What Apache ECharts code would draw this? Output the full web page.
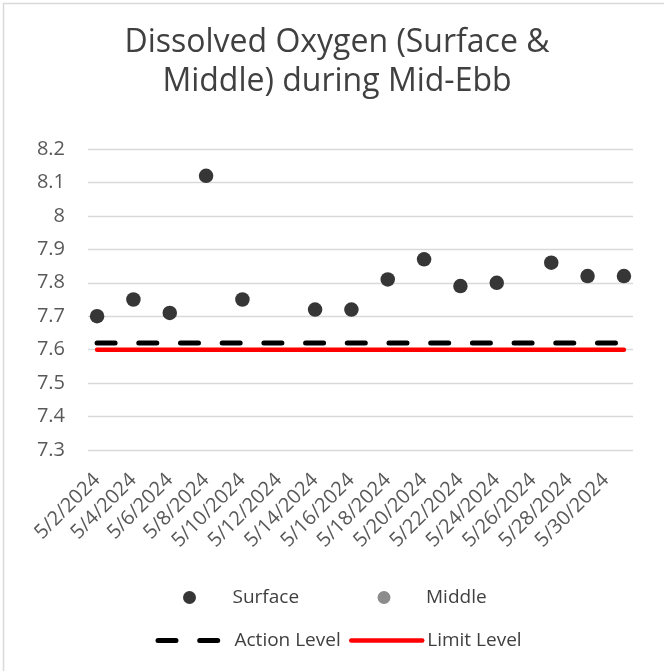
<!DOCTYPE html>
<html>
<head>
<meta charset="utf-8">
<script src="https://cdn.jsdelivr.net/npm/echarts@6/dist/echarts.min.js"></script>
<style>
html,body{margin:0;padding:0;background:#fff;}
#chart{width:664px;height:671px;}
</style>
</head>
<body>
<div id="chart"></div>
<script>
// Category axis: every day of the period
const dates = [
  '5/2/2024','5/3/2024','5/4/2024','5/5/2024','5/6/2024','5/7/2024','5/8/2024','5/9/2024',
  '5/10/2024','5/11/2024','5/12/2024','5/13/2024','5/14/2024','5/15/2024','5/16/2024','5/17/2024',
  '5/18/2024','5/19/2024','5/20/2024','5/21/2024','5/22/2024','5/23/2024','5/24/2024','5/25/2024',
  '5/26/2024','5/27/2024','5/28/2024','5/29/2024','5/30/2024','5/31/2024'
];
// Sampling days and measured values
const sampleDates = ['5/2/2024','5/4/2024','5/6/2024','5/8/2024','5/10/2024','5/14/2024','5/16/2024',
  '5/18/2024','5/20/2024','5/22/2024','5/24/2024','5/27/2024','5/29/2024','5/31/2024'];
const surfaceValues = [7.70, 7.75, 7.71, 8.12, 7.75, 7.72, 7.72, 7.81, 7.87, 7.79, 7.80, 7.86, 7.82, 7.82];
const middleValues = [];
const actionLevel = 7.62;
const limitLevel = 7.60;
const yMin = 7.3, yMax = 8.2, yStep = 0.1;

const FONT = '"Open Sans", sans-serif';
const chart = echarts.init(document.getElementById('chart'));

const surfaceData = sampleDates.map((d, i) => [d, surfaceValues[i]]);
const middleData = middleValues.map((v, i) => [sampleDates[i], v]);

const legendText = {color: '#404040', fontSize: 19, fontFamily: FONT};

chart.setOption({
  animation: false,
  backgroundColor: '#fff',
  graphic: [{
    type: 'rect', silent: true,
    shape: {x: 3.5, y: 3.5, width: 720, height: 720},
    style: {fill: 'none', stroke: '#d9d9d9', lineWidth: 1.5}
  }],
  title: {
    text: 'Dissolved Oxygen (Surface &\nMiddle) during Mid-Ebb',
    left: 337, top: 23, padding: 0, textAlign: 'center',
    textStyle: {color: '#404040', fontSize: 32, fontWeight: 'normal', fontFamily: FONT, lineHeight: 39}
  },
  grid: {left: 88, right: 31, top: 149, bottom: 221, containLabel: false},
  legend: [
    {data: ['Surface'], left: 183, top: 588, padding: 0, itemWidth: 76, itemHeight: 13,
     icon: 'circle', itemStyle: {opacity: 1}, textStyle: legendText},
    {data: ['Middle'], left: 377.5, top: 588, padding: 0, itemWidth: 74, itemHeight: 13,
     icon: 'circle', itemStyle: {opacity: 1}, textStyle: legendText},
    {data: ['Action Level'], left: 155.5, top: 631, padding: 0, itemWidth: 71.5, itemHeight: 13,
     textStyle: legendText, itemStyle: {opacity: 0},
     lineStyle: {width: 5, type: [18, 23.7], cap: 'round', color: '#000', opacity: 1}},
    {data: ['Limit Level'], left: 349, top: 631, padding: 0, itemWidth: 71, itemHeight: 13,
     textStyle: legendText, itemStyle: {opacity: 0},
     lineStyle: {width: 4.5, type: 'solid', cap: 'round', color: '#ff0000', opacity: 1}}
  ],
  xAxis: {
    type: 'category', data: dates, boundaryGap: true,
    axisLine: {show: false}, axisTick: {show: false},
    axisLabel: {interval: 1, rotate: 45, margin: 27, color: '#595959', fontSize: 20, fontFamily: FONT},
    splitLine: {show: false}
  },
  yAxis: {
    type: 'value', min: yMin, max: yMax, interval: yStep,
    axisLine: {show: false}, axisTick: {show: false},
    axisLabel: {margin: 23, color: '#595959', fontSize: 20, fontFamily: FONT,
      formatter: v => String(parseFloat(v.toFixed(1)))},
    splitLine: {lineStyle: {color: '#d9d9d9', width: 1.3}}
  },
  series: [
    {name: 'Surface', type: 'scatter', data: surfaceData, symbol: 'circle', symbolSize: 14.5,
     itemStyle: {color: '#363636', opacity: 1}, z: 5},
    {name: 'Middle', type: 'scatter', data: middleData, symbol: 'circle', symbolSize: 14.5,
     itemStyle: {color: '#8c8c8c', opacity: 1}, z: 4},
    {name: 'Action Level', type: 'line', data: dates.map(() => actionLevel), symbol: 'none',
     showSymbol: false, itemStyle: {color: '#000'},
     lineStyle: {color: '#000', width: 5, type: [18, 23.7], cap: 'round'}, z: 3},
    {name: 'Limit Level', type: 'line', data: dates.map(() => limitLevel), symbol: 'none',
     showSymbol: false, itemStyle: {color: '#ff0000'},
     lineStyle: {color: '#ff0000', width: 4.5, cap: 'round'}, z: 3}
  ]
});
</script>
</body>
</html>
